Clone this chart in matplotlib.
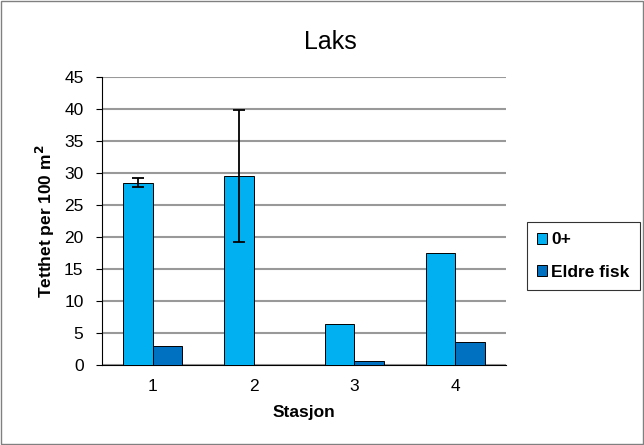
import matplotlib
matplotlib.use("Agg")
import matplotlib.pyplot as plt
import numpy as np
from matplotlib.patches import Rectangle

plt.rcParams['font.family'] = ['Liberation Sans', 'DejaVu Sans']

stations = ["1", "2", "3", "4"]
young = [28.5, 29.5, 6.4, 17.5]
young_err = [0.7, 10.3, 0, 0]
older = [3.0, 0.0, 0.6, 3.6]
yticks = [0, 5, 10, 15, 20, 25, 30, 35, 40, 45]

fig = plt.figure(figsize=(6.44, 4.45), dpi=100)
fig.patches.append(Rectangle((0.002, 0.002), 0.996, 0.996, transform=fig.transFigure,
                             fill=False, edgecolor='#808080', linewidth=1))
ax = fig.add_axes([0.1584, 0.180, 0.6273, 0.647])

x = np.arange(len(stations))
w = 0.295
ax.bar(x - w/2, young, w, color='#00B0F0', edgecolor='black', linewidth=0.7, label='0+', zorder=3)
has_err = [i for i, e in enumerate(young_err) if e > 0]
ax.errorbar([x[i] - w/2 for i in has_err], [young[i] for i in has_err],
            yerr=[young_err[i] for i in has_err], fmt='none', ecolor='black', elinewidth=1.3,
            capsize=4, capthick=1.3, zorder=4)
ax.bar(x + w/2, older, w, color='#0070C0', edgecolor='black', linewidth=0.7, label='Eldre fisk', zorder=3)

ax.set_xlim(-0.5, len(stations) - 0.5)
ax.set_ylim(0, 45)
ax.set_yticks(yticks)
ax.set_xticks(x)
ax.set_xticklabels(stations)
ax.yaxis.grid(True, color='#999999', linewidth=1.5, zorder=0)
ax.set_axisbelow(True)
for s in ['top', 'right']:
    ax.spines[s].set_visible(False)
ax.spines['left'].set_color('black')
ax.spines['bottom'].set_color('black')
ax.tick_params(axis='y', direction='out', length=4.3, labelsize=12.5, pad=9)
ax.tick_params(axis='x', length=0, labelsize=12.5, pad=10)

fig.text(330/644, 1 - 42/445, 'Laks', fontsize=18, ha='center', va='center')
ax.set_xlabel('Stasjon', fontsize=12.5, fontweight='bold', labelpad=8)
ax.set_ylabel('Tetthet per 100 m$^\\mathbf{2}$', fontsize=12.5, fontweight='bold', labelpad=5)

leg = fig.legend(loc='upper left', bbox_to_anchor=(527/644, 1 - 222/445), frameon=True, fancybox=False,
                 edgecolor='black', fontsize=12.5, handlelength=0.55, handleheight=0.55,
                 handletextpad=0.25, labelspacing=1.0, borderpad=0.6, borderaxespad=0)
for t in leg.get_texts():
    t.set_fontweight('bold')
leg.get_frame().set_linewidth(0.8)

fig.savefig('out.png', dpi=100)
